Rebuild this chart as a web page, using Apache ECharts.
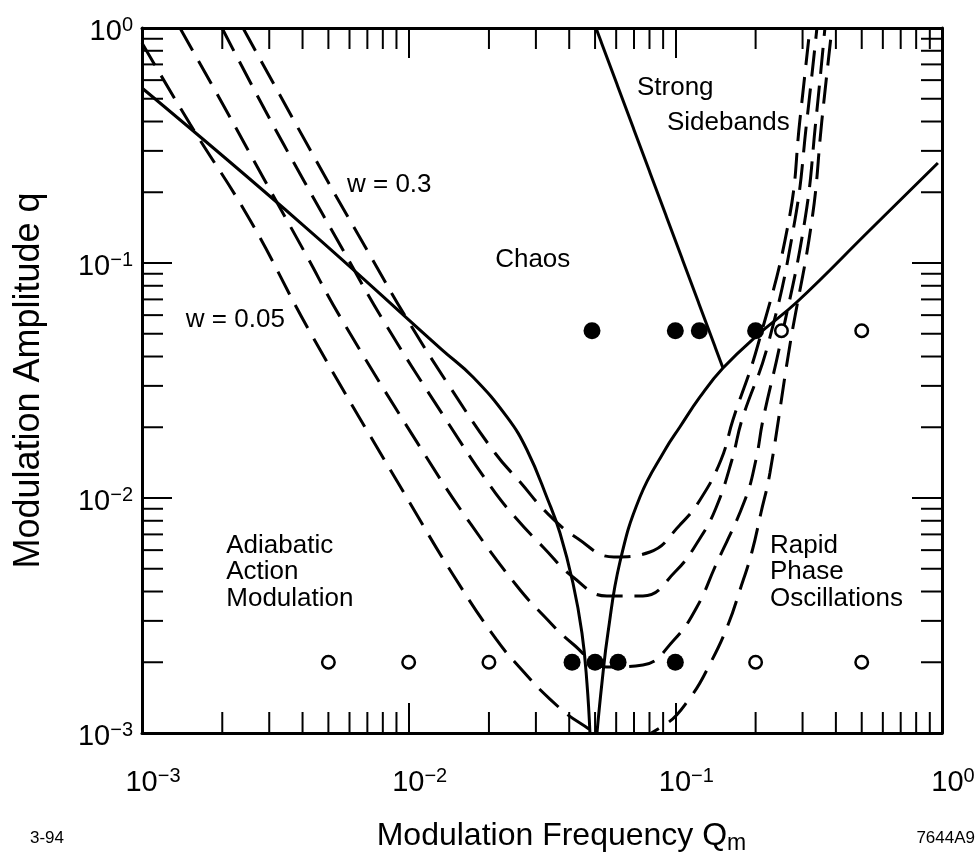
<!DOCTYPE html>
<html><head><meta charset="utf-8">
<script src="https://cdn.jsdelivr.net/npm/echarts@6.0.0/dist/echarts.min.js"></script>
<style>html,body{margin:0;padding:0;background:#fff;overflow:hidden}#c{width:977px;height:855px}</style>
</head><body><div id="c"></div>
<script>
// ---- data (Q = modulation frequency, q = modulation amplitude) ----
const solidLeftQ  = [0.001, 0.004016, 0.01334, 0.01742, 0.02336, 0.02778, 0.03328, 0.03693, 0.04131, 0.04465, 0.04662, 0.04784];
const solidLeftq  = [0.5555, 0.1451, 0.0427, 0.03272, 0.02212, 0.01601, 0.00981, 0.0071, 0.004348, 0.002664, 0.001632, 0.001];
const solidRightQ = [0.05083, 0.05306, 0.05588, 0.06198, 0.07367, 0.09143, 0.1040, 0.1237, 0.1509, 0.2076, 0.2858, 0.5368, 0.9652];
const solidRightq = [0.001, 0.001632, 0.002664, 0.005341, 0.0101, 0.01601, 0.02005, 0.02691, 0.03574, 0.05037, 0.06823, 0.1382, 0.2664];
const sidebandQ   = [0.05039, 0.1509];
const sidebandq   = [1, 0.03574];

const dashAQ = [0.002392, 0.00494, 0.00698, 0.009854, 0.01428, 0.02107, 0.02637, 0.0330, 0.04276, 0.05886, 0.08033, 0.1040, 0.1237, 0.1483, 0.1644, 0.2040, 0.2667, 0.2932, 0.3197];
const dashAq = [1, 0.2255, 0.1136, 0.05777, 0.02968, 0.01554, 0.01158, 0.00864, 0.00676, 0.00561, 0.00589, 0.00768, 0.00981, 0.01451, 0.02147, 0.04478, 0.1524, 0.4061, 1];
const dashBQ = [0.001995, 0.002892, 0.00405, 0.005672, 0.00801, 0.01391, 0.02035, 0.02504, 0.03216, 0.0413, 0.05539, 0.07558, 0.09966, 0.1226, 0.142, 0.163, 0.1777, 0.2224, 0.2809, 0.3115, 0.3396];
const dashBq = [1, 0.4479, 0.2234, 0.1136, 0.05721, 0.02126, 0.01114, 0.0083, 0.00613, 0.00461, 0.00383, 0.00383, 0.00484, 0.00663, 0.00907, 0.01451, 0.02147, 0.04478, 0.1524, 0.4061, 1];
const dashCQ = [0.001388, 0.002065, 0.002867, 0.00405, 0.005623, 0.01171, 0.01698, 0.02547, 0.03216, 0.0413, 0.05539, 0.07558, 0.09881, 0.1205, 0.1408, 0.1824, 0.2005, 0.2131, 0.2467, 0.3061, 0.3367, 0.3639];
const dashCq = [1, 0.4479, 0.2278, 0.1125, 0.05721, 0.0148, 0.00783, 0.00422, 0.003147, 0.002392, 0.00191, 0.001948, 0.002487, 0.003437, 0.005086, 0.00981, 0.01451, 0.02147, 0.04478, 0.1524, 0.4061, 1];
const dashDQ = [0.001, 0.001514, 0.002541, 0.004265, 0.01011, 0.01453, 0.02125, 0.0266, 0.03386, 0.04388, 0.06198, 0.08986, 0.1134, 0.136, 0.1575, 0.1747, 0.1937, 0.2094, 0.2263, 0.269, 0.3253, 0.3546, 0.3866];
const dashDq = [0.8633, 0.3905, 0.1524, 0.05086, 0.009522, 0.004797, 0.002512, 0.001854, 0.001395, 0.001103, 0.000916, 0.001071, 0.001409, 0.002005, 0.002881, 0.00406, 0.005892, 0.008636, 0.01278, 0.04478, 0.1524, 0.4061, 1];

const filledQ = [0.0487, 0.1, 0.123, 0.2, 0.041, 0.05, 0.061, 0.1];
const filledq = [0.0515, 0.0515, 0.0515, 0.0515, 0.002, 0.002, 0.002, 0.002];
const openQ   = [0.25, 0.5, 0.005, 0.01, 0.02, 0.2, 0.5];
const openq   = [0.0515, 0.0515, 0.002, 0.002, 0.002, 0.002, 0.002];

const noteText = ['w = 0.3', 'w = 0.05', 'Chaos', 'Strong', 'Sidebands', 'Adiabatic\nAction\nModulation', 'Rapid\nPhase\nOscillations'];
const noteQ    = [0.00587, 0.00146, 0.0211, 0.0718, 0.0930, 0.00207, 0.2265];
const noteq    = [0.215, 0.0572, 0.103, 0.556, 0.394, 0.00484, 0.00484];

const decades = [0.001, 0.01, 0.1];
const minorMult = [2, 3, 4, 5, 6, 7, 8, 9];
const axisMin = 0.001, axisMax = 1;

// ---- build ----
const FONT = "'Liberation Sans', Arial, sans-serif";
const pairs = (a, b) => a.map((v, i) => [v, b[i]]);
const minorVals = [];
decades.forEach(d => minorMult.forEach(m => minorVals.push(+(m * d).toPrecision(3))));

const sup = v => {
  const e = Math.round(Math.log10(v));
  return '{b|10}{s|' + (e < 0 ? '\u2212' + (-e) : '' + e) + '}';
};
const labelRich = {
  b: {fontSize: 29, lineHeight: 34, fontFamily: FONT, color: '#000'},
  s: {fontSize: 20, lineHeight: 18, verticalAlign: 'top', fontFamily: FONT, color: '#000'}
};
const tickStyle = {inside: true, length: 30, lineStyle: {color: '#000', width: 2}};
const lineAx = {onZero: false, lineStyle: {color: '#000', width: 3}};

const solid = (Q, q) => ({type: 'line', data: pairs(Q, q), showSymbol: false, smooth: 0.45,
  lineStyle: {color: '#000', width: 3}, silent: true, z: 3});
const dashed = (Q, q) => ({type: 'line', data: pairs(Q, q), showSymbol: false, smooth: 0.45,
  lineStyle: {color: '#000', width: 3, type: [26, 12]}, silent: true, z: 3});

const tickLine = (x1, y1, x2, y2) => ({type: 'line', shape: {x1, y1, x2, y2}, style: {stroke: '#000', lineWidth: 2}});

const option = {
  animation: false,
  backgroundColor: '#fff',
  grid: {left: 142, right: 35, top: 28, bottom: 122, containLabel: false, outerBoundsMode: 'none'},
  xAxis: [
    {type: 'log', logBase: 10, min: axisMin, max: axisMax, position: 'bottom',
     axisLine: lineAx, axisTick: tickStyle, splitLine: {show: false},
     axisLabel: {formatter: sup, rich: labelRich, margin: 33, padding: [0, 0, 0, 22]},
     name: '{t|Modulation Frequency Q}{m|m}', nameLocation: 'middle', nameGap: 84,
     nameTextStyle: {padding: [0, 0, 0, 39], rich: {
       t: {fontSize: 32, lineHeight: 38, fontFamily: FONT, color: '#000'},
       m: {fontSize: 23, lineHeight: 23, verticalAlign: 'bottom', fontFamily: FONT, color: '#000'}}}},
    {type: 'log', logBase: 10, min: axisMin, max: axisMax, position: 'top',
     axisLine: lineAx, axisTick: tickStyle, splitLine: {show: false}, axisLabel: {show: false}}
  ],
  yAxis: [
    {type: 'log', logBase: 10, min: axisMin, max: axisMax, position: 'left',
     axisLine: lineAx, axisTick: tickStyle, splitLine: {show: false},
     axisLabel: {formatter: sup, rich: labelRich, margin: 9, padding: [8, 0, 0, 0]},
     name: 'Modulation Amplitude q', nameLocation: 'middle', nameGap: 95,
     nameTextStyle: {fontSize: 36, fontFamily: FONT, color: '#000'}},
    {type: 'log', logBase: 10, min: axisMin, max: axisMax, position: 'right',
     axisLine: lineAx, axisTick: tickStyle, splitLine: {show: false}, axisLabel: {show: false}}
  ],
  graphic: [
    {type: 'text', left: 30, top: 830, style: {text: '3-94', font: '17px ' + FONT, fill: '#000'}},
    {type: 'text', right: 2, top: 830, style: {text: '7644A9', font: '17px ' + FONT, fill: '#000'}}
  ],
  series: [
    {type: 'custom', silent: true, z: 4, data: minorVals.map(v => [v, axisMin]),
     renderItem: (p, api) => {
       const v = api.value(0);
       const b = api.coord([v, axisMin]), t = api.coord([v, axisMax]);
       return {type: 'group', children: [tickLine(b[0], b[1], b[0], b[1] - 21), tickLine(t[0], t[1], t[0], t[1] + 21)]};
     }},
    {type: 'custom', silent: true, z: 4, data: minorVals.map(v => [axisMin, v]),
     renderItem: (p, api) => {
       const v = api.value(1);
       const l = api.coord([axisMin, v]), r = api.coord([axisMax, v]);
       return {type: 'group', children: [tickLine(l[0], l[1], l[0] + 21, l[1]), tickLine(r[0], r[1], r[0] - 21, r[1])]};
     }},
    solid(solidLeftQ, solidLeftq),
    solid(solidRightQ, solidRightq),
    Object.assign(solid(sidebandQ, sidebandq), {smooth: false}),
    dashed(dashAQ, dashAq),
    dashed(dashBQ, dashBq),
    dashed(dashCQ, dashCq),
    dashed(dashDQ, dashDq),
    {type: 'scatter', data: pairs(filledQ, filledq), symbol: 'circle', symbolSize: 17,
     itemStyle: {color: '#000', opacity: 1}, silent: true, z: 5},
    {type: 'scatter', data: pairs(openQ, openq), symbol: 'circle', symbolSize: 12.5,
     itemStyle: {color: '#fff', borderColor: '#000', borderWidth: 2.5, opacity: 1}, silent: true, z: 5},
    {type: 'scatter', silent: true, z: 6, symbolSize: 0, itemStyle: {opacity: 1},
     data: noteText.map((t, i) => ({name: t, value: [noteQ[i], noteq[i]]})),
     label: {show: true, position: 'right', distance: 0, formatter: '{b}', color: '#000', opacity: 1,
       fontSize: 26, lineHeight: 26.5, fontFamily: FONT}}
  ]
};
const chart = echarts.init(document.getElementById('c'));
chart.setOption(option);
</script></body></html>
